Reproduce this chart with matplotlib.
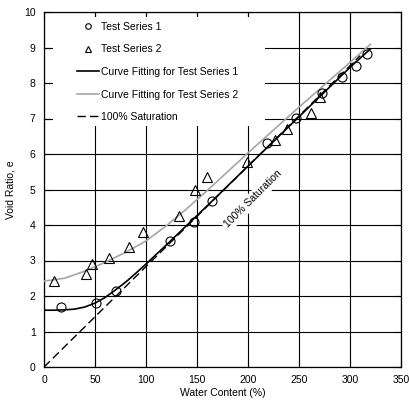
import matplotlib
matplotlib.use("Agg")
import matplotlib.pyplot as plt
from matplotlib.lines import Line2D
from matplotlib.patches import Rectangle

plt.rcParams['font.family'] = ['Liberation Sans', 'DejaVu Sans']
plt.rcParams['font.size'] = 7.5

# Test series 1 (circles)
s1_w = [16.4, 51, 70.6, 123.8, 147, 164.4, 218.3, 246.8, 272.2, 291.8, 305.6, 317]
s1_e = [1.70, 1.79, 2.15, 3.55, 4.08, 4.68, 6.32, 7.02, 7.73, 8.16, 8.48, 8.81]

# Test series 2 (triangles)
s2_w = [9.8, 41, 47, 63.7, 83.6, 97.4, 132, 148, 159.5, 198.7, 226.5, 238.5, 261.5, 270.6]
s2_e = [2.42, 2.62, 2.90, 3.07, 3.39, 3.79, 4.25, 4.99, 5.36, 5.78, 6.39, 6.70, 7.16, 7.60]

# fitted curves
fit1_w = [0, 10, 20, 30, 40, 50, 60, 70, 80, 90, 100, 120, 140, 160, 200, 250, 300, 320]
fit1_e = [1.60, 1.60, 1.61, 1.63, 1.69, 1.80, 1.96, 2.17, 2.39, 2.64, 2.90, 3.44, 3.99, 4.54, 5.66, 7.05, 8.44, 8.96]

fit2_w = [0, 20, 40, 60, 80, 100, 120, 140, 160, 180, 200, 250, 300, 320]
fit2_e = [2.42, 2.50, 2.70, 2.95, 3.23, 3.55, 3.98, 4.46, 4.97, 5.50, 6.03, 7.32, 8.58, 9.09]

# 100% saturation line
sat_w = [0, 310]
sat_e = [0, 8.77]

fig = plt.figure(figsize=(4.09, 4.05), dpi=100)
ax = fig.add_axes([44 / 409, 38 / 405, 357 / 409, 355 / 405])

ax.set_xlim(0, 350)
ax.set_ylim(0, 10)
ax.set_xticks(range(0, 351, 50))
ax.set_yticks(range(0, 11))
ax.grid(True, color='black', linewidth=0.8)
ax.tick_params(direction='in', length=5, width=0.8, top=True, right=True, pad=6)
for sp in ax.spines.values():
    sp.set_linewidth(0.9)

ax.plot(sat_w, sat_e, color='black', linewidth=1.0, dashes=(6, 3), zorder=4)
ax.plot(fit2_w, fit2_e, color='#a6a6a6', linewidth=1.2, zorder=4)
ax.plot(fit1_w, fit1_e, color='black', linewidth=1.2, zorder=4)
ax.plot(s1_w, s1_e, linestyle='none', marker='o', markersize=6.5,
        markerfacecolor='none', markeredgecolor='black', markeredgewidth=0.8, zorder=5)
ax.plot(s2_w, s2_e, linestyle='none', marker='^', markersize=6.5,
        markerfacecolor='none', markeredgecolor='black', markeredgewidth=0.8, zorder=5)

ax.text(205, 4.73, '100% Saturation', rotation=45, ha='center', va='center',
        bbox=dict(facecolor='white', edgecolor='none', pad=1.5), zorder=3)

# white area behind legend
ax.add_patch(Rectangle((9 / 357, 1 - 114 / 355), 212 / 357, 109 / 355,
                       transform=ax.transAxes, facecolor='white', edgecolor='none', zorder=3))

handles = [
    Line2D([], [], linestyle='none', marker='o', markersize=4, markerfacecolor='none',
           markeredgecolor='black', markeredgewidth=0.8),
    Line2D([], [], linestyle='none', marker='^', markersize=4, markerfacecolor='none',
           markeredgecolor='black', markeredgewidth=0.8),
    Line2D([], [], color='black', linewidth=1.2),
    Line2D([], [], color='#a6a6a6', linewidth=1.2),
    Line2D([], [], color='black', linewidth=1.0, dashes=(6, 3)),
]
labels = ['Test Series 1', 'Test Series 2', 'Curve Fitting for Test Series 1',
          'Curve Fitting for Test Series 2', '100% Saturation']
leg = ax.legend(handles, labels, loc='upper left', bbox_to_anchor=(33 / 357, 1 - 10 / 355),
                frameon=False, borderpad=0, borderaxespad=0, handlelength=2.1,
                handletextpad=0.2, labelspacing=1.2, fontsize=7.5)
leg.set_zorder(6)

ax.set_xlabel('Water Content (%)', labelpad=2)
ax.set_ylabel('Void Ratio, e', labelpad=6)

fig.savefig('out.png', dpi=100)
